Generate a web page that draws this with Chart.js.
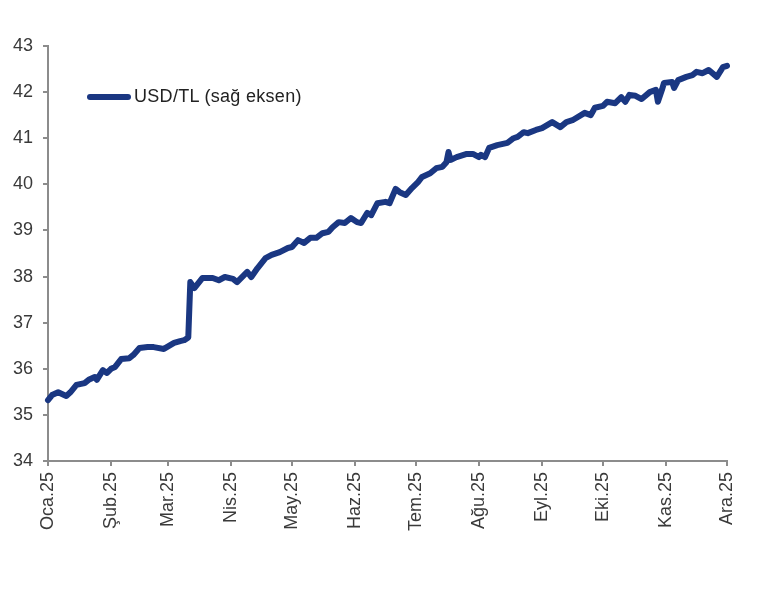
<!DOCTYPE html>
<html>
<head>
<meta charset="utf-8">
<script src="https://cdn.jsdelivr.net/npm/chart.js@4.4.1/dist/chart.umd.min.js"></script>
<style>
  html, body { margin: 0; padding: 0; background: #fff; }
  #wrap { position: relative; width: 768px; height: 590px; }
  #legend { position: absolute; left: 87px; top: 86px; display: flex; align-items: center;
            font-family: "Liberation Sans", Arial, sans-serif; font-size: 18px; letter-spacing: 0.3px; color: #222; }
  #legend .swatch { width: 44px; height: 6px; border-radius: 3px; background: #1a3782; margin-right: 3px; }
</style>
</head>
<body>
<div id="wrap">
  <canvas id="c" width="768" height="590"></canvas>
  <div id="legend"><span class="swatch"></span><span id="legendText"></span></div>
</div>
<script>
const seriesName = "USD/TL (sağ eksen)";
const monthLabels = ["Oca.25","Şub.25","Mar.25","Nis.25","May.25","Haz.25","Tem.25","Ağu.25","Eyl.25","Eki.25","Kas.25","Ara.25"];
const yTicks = [34, 35, 36, 37, 38, 39, 40, 41, 42, 43];

// dates (2025, MM-DD) and USD/TL values
const dates = [
 "01-01","01-03","01-06","01-10","01-12","01-15","01-19","01-21","01-24","01-25","01-28","01-30",
 "02-01","02-03","02-06","02-10","02-12","02-15","02-19","02-22","02-27",
 "03-04","03-07","03-09","03-11","03-12","03-14","03-18","03-23","03-26","03-29",
 "04-02","04-04","04-09","04-11","04-14","04-18","04-21","04-25","04-29",
 "05-01","05-04","05-07","05-10","05-13","05-16","05-19","05-21","05-24","05-27","05-30",
 "06-02","06-04","06-07","06-09","06-12","06-16","06-18","06-21","06-23","06-26","06-29",
 "07-02","07-04","07-08","07-11","07-14","07-16","07-17","07-18","07-21","07-26","07-29",
 "08-01","08-02","08-04","08-06","08-10","08-15","08-18","08-20","08-23","08-25","08-29",
 "09-01","09-06","09-10","09-13","09-16","09-22","09-25","09-27",
 "10-01","10-03","10-07","10-10","10-12","10-14","10-17","10-20","10-24","10-27","10-28","10-30","10-31",
 "11-04","11-05","11-07","11-11","11-14","11-16","11-19","11-22","11-26","11-29",
 "12-01","12-02"
];
const usdtl = [
 35.32,35.43,35.49,35.41,35.49,35.65,35.69,35.76,35.82,35.76,35.97,35.91,
 36.00,36.04,36.21,36.23,36.30,36.45,36.47,36.47,36.43,
 36.56,36.60,36.62,36.68,37.88,37.75,37.97,37.97,37.92,37.99,
 37.95,37.88,38.10,37.99,38.18,38.40,38.47,38.53,38.62,
 38.64,38.79,38.73,38.84,38.84,38.94,38.97,39.07,39.18,39.16,39.27,
 39.18,39.16,39.38,39.33,39.59,39.62,39.59,39.90,39.83,39.77,39.92,
 40.05,40.16,40.24,40.35,40.38,40.48,40.70,40.53,40.59,40.66,40.66,
 40.59,40.64,40.59,40.79,40.85,40.90,41.00,41.03,41.13,41.11,41.18,
 41.22,41.35,41.24,41.35,41.39,41.55,41.50,41.66,
 41.70,41.79,41.76,41.89,41.79,41.94,41.92,41.85,42.00,42.05,41.79,42.05,42.20,
 42.22,42.09,42.26,42.33,42.37,42.44,42.41,42.48,42.33,42.54,
 42.57,42.57
];

const base = Date.UTC(2025, 0, 1);
const dayIndex = s => { const [m, d] = s.split("-").map(Number); return (Date.UTC(2025, m - 1, d) - base) / 86400000; };
const monthStarts = monthLabels.map((_, i) => (Date.UTC(2025, i, 1) - base) / 86400000);
const points = dates.map((d, i) => ({ x: dayIndex(d), y: usdtl[i] }));

document.getElementById("legendText").textContent = seriesName;

const FONT = "'Liberation Sans', Arial, sans-serif";
const AXIS = "#8c8c8c";
const TEXT = "#3a3a3a";

new Chart(document.getElementById("c"), {
  type: "line",
  data: {
    datasets: [{
      label: seriesName,
      data: points,
      borderColor: "#1a3782",
      backgroundColor: "#1a3782",
      borderWidth: 6,
      pointRadius: 0,
      tension: 0,
      borderJoinStyle: "round",
      borderCapStyle: "round",
      clip: false
    }]
  },
  options: {
    responsive: false,
    animation: false,
    layout: { padding: { top: 46, right: 41, left: 0, bottom: 0 } },
    plugins: { legend: { display: false }, tooltip: { enabled: false } },
    scales: {
      x: {
        type: "linear",
        min: monthStarts[0],
        max: monthStarts[monthStarts.length - 1],
        afterBuildTicks: s => { s.ticks = monthStarts.map(v => ({ value: v })); },
        afterFit: s => { s.height = 129; },
        grid: { drawOnChartArea: false, drawTicks: true, tickLength: 5, color: AXIS, lineWidth: 2 },
        border: { display: true, color: AXIS, width: 2 },
        ticks: {
          autoSkip: false, minRotation: 90, maxRotation: 90, padding: 6,
          color: TEXT, font: { family: FONT, size: 18 },
          callback: (v) => { const i = monthStarts.indexOf(v); return i >= 0 ? monthLabels[i] : ""; }
        }
      },
      y: {
        min: yTicks[0],
        max: yTicks[yTicks.length - 1],
        afterBuildTicks: s => { s.ticks = yTicks.map(v => ({ value: v })); },
        afterFit: s => { s.width = 48; },
        grid: { drawOnChartArea: false, drawTicks: true, tickLength: 5, color: AXIS, lineWidth: 2 },
        border: { display: true, color: AXIS, width: 2 },
        ticks: { padding: 10, color: TEXT, font: { family: FONT, size: 18 } }
      }
    }
  }
});
</script>
</body>
</html>
